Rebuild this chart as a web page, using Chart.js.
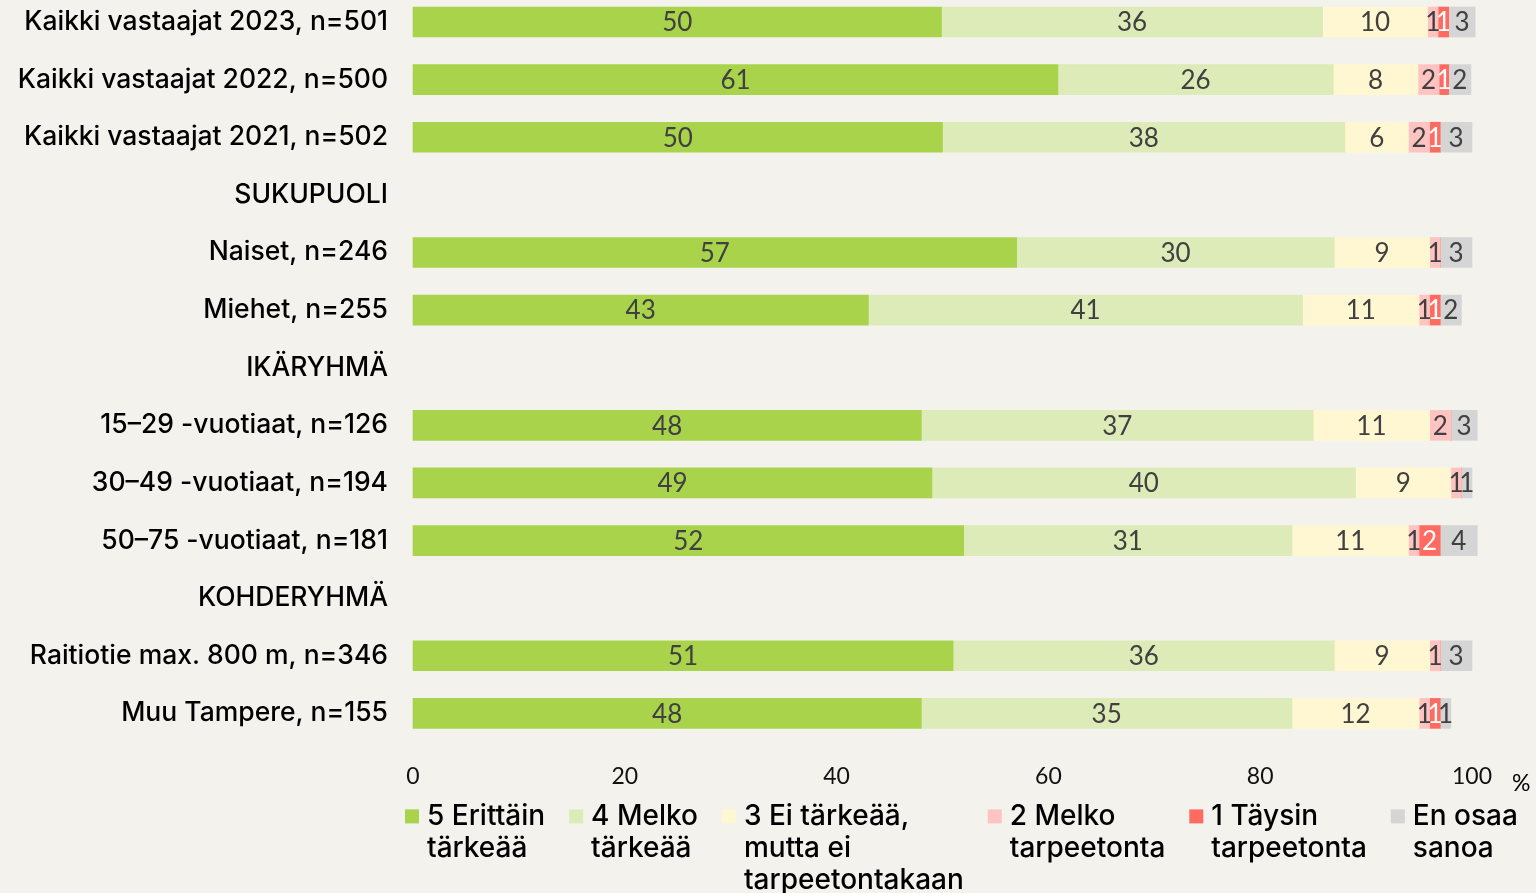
<!DOCTYPE html>
<html lang="fi">
<head>
<meta charset="utf-8">
<script src="https://cdn.jsdelivr.net/npm/chart.js@4"></script>
<style>
  html, body { margin: 0; padding: 0; background: #f3f2ed; }
  canvas { display: block; }
</style>
</head>
<body>
<canvas id="chart" width="1536" height="893"></canvas>
<script>
// Rivit (otsikkorivit ilman dataa)
const categories = [
  "Kaikki vastaajat 2023, n=501",
  "Kaikki vastaajat 2022, n=500",
  "Kaikki vastaajat 2021, n=502",
  "SUKUPUOLI",
  "Naiset, n=246",
  "Miehet, n=255",
  "IKÄRYHMÄ",
  "15–29 -vuotiaat, n=126",
  "30–49 -vuotiaat, n=194",
  "50–75 -vuotiaat, n=181",
  "KOHDERYHMÄ",
  "Raitiotie max. 800 m, n=346",
  "Muu Tampere, n=155"
];

// prosentit, luettu kuvasta
const erittainTarkeaa = [49.9, 60.9, 50, null, 57, 43, null, 48, 49, 52, null, 51, 48];
const melkoTarkeaa    = [36, 26, 38, null, 30, 41, null, 37, 40, 31, null, 36, 35];
const eiTarkeaa       = [9.9, 8, 6, null, 9, 11, null, 11, 9, 11, null, 9, 12];
const melkoTarpeeton  = [1, 2, 2, null, 1, 1, null, 2, 1, 1, null, 1, 1];
const taysinTarpeeton = [1, 0.9, 1, null, 0, 1, null, 0, 0, 2, null, 0, 1];
const enOsaa          = [2.5, 2.1, 3, null, 3, 2, null, 2.5, 1, 3.5, null, 3, 1];

const seriesNames = [
  ["5 Erittäin", "tärkeää"],
  ["4 Melko", "tärkeää"],
  ["3 Ei tärkeää,", "mutta ei", "tarpeetontakaan"],
  ["2 Melko", "tarpeetonta"],
  ["1 Täysin", "tarpeetonta"],
  ["En osaa", "sanoa"]
];
const seriesColors = ["#a9d34b", "#ddebb8", "#fff7d1", "#ffc4c1", "#ff6b60", "#d5d5d5"];
const labelColors  = ["#404040", "#404040", "#404040", "#404040", "#ffffff", "#404040"];
const xTicks = [0, 20, 40, 60, 80, 100];

const seriesData = [erittainTarkeaa, melkoTarkeaa, eiTarkeaa, melkoTarpeeton, taysinTarpeeton, enOsaa];

// arvot palkkien keskelle
const valueLabels = {
  id: 'valueLabels',
  afterDatasetsDraw(chart) {
    const ctx = chart.ctx;
    ctx.save();
    ctx.font = '26px Lato';
    ctx.textAlign = 'center';
    ctx.textBaseline = 'middle';
    chart.data.datasets.forEach((ds, i) => {
      const meta = chart.getDatasetMeta(i);
      meta.data.forEach((bar, j) => {
        const v = ds.data[j];
        if (v == null || v <= 0) return;
        ctx.fillStyle = labelColors[i];
        ctx.fillText(Math.round(v), (bar.x + bar.base) / 2, bar.y + 1);
      });
    });
    ctx.restore();
  }
};

// selite alas, rivitetyt tekstit
const wrappedLegend = {
  id: 'wrappedLegend',
  afterDraw(chart) {
    const ctx = chart.ctx;
    const area = chart.chartArea;
    let x = area.left - 8;
    const y = area.bottom + 103;
    ctx.save();
    ctx.font = '500 28px Inter';
    ctx.textAlign = 'left';
    ctx.textBaseline = 'middle';
    seriesNames.forEach((lines, i) => {
      ctx.fillStyle = seriesColors[i];
      ctx.fillRect(x, y - 7, 14, 14);
      ctx.fillStyle = '#000';
      lines.forEach((line, k) => ctx.fillText(line, x + 22, y + k * 32));
      const w = Math.max(...lines.map(l => ctx.measureText(l).width));
      x += 22 + w + 24;
    });
    // yksikkö x-akselin perään
    ctx.font = '23px Lato';
    ctx.fillText('%', area.right + 40, area.bottom + 70);
    ctx.restore();
  }
};

new Chart(document.getElementById('chart'), {
  type: 'bar',
  data: {
    labels: categories,
    datasets: seriesData.map((d, i) => ({
      label: seriesNames[i].join(' '),
      data: d,
      backgroundColor: seriesColors[i],
      borderWidth: 0,
      barThickness: 30,
      clip: false
    }))
  },
  options: {
    indexAxis: 'y',
    responsive: false,
    animation: false,
    layout: { padding: { top: 22, right: 64, bottom: 54, left: 0 } },
    scales: {
      x: {
        stacked: true,
        min: 0,
        max: 100,
        afterBuildTicks: s => { s.ticks = xTicks.map(v => ({ value: v })); },
        afterFit: s => { s.paddingLeft = 0; s.paddingRight = 0; },
        grid: { display: false, drawTicks: false },
        border: { display: false },
        ticks: { padding: 49, color: '#111', font: { family: 'Lato', size: 23 } }
      },
      y: {
        stacked: true,
        offset: false,
        afterFit: s => { s.width = 413; s.paddingTop = 0; s.paddingBottom = 0; },
        grid: { display: false, drawTicks: false },
        border: { display: false },
        ticks: { padding: 25, color: '#000', autoSkip: false, font: { family: 'Inter', size: 26.5, weight: 500 } }
      }
    },
    plugins: {
      legend: { display: false },
      tooltip: { enabled: false }
    }
  },
  plugins: [valueLabels, wrappedLegend]
});
</script>
</body>
</html>
